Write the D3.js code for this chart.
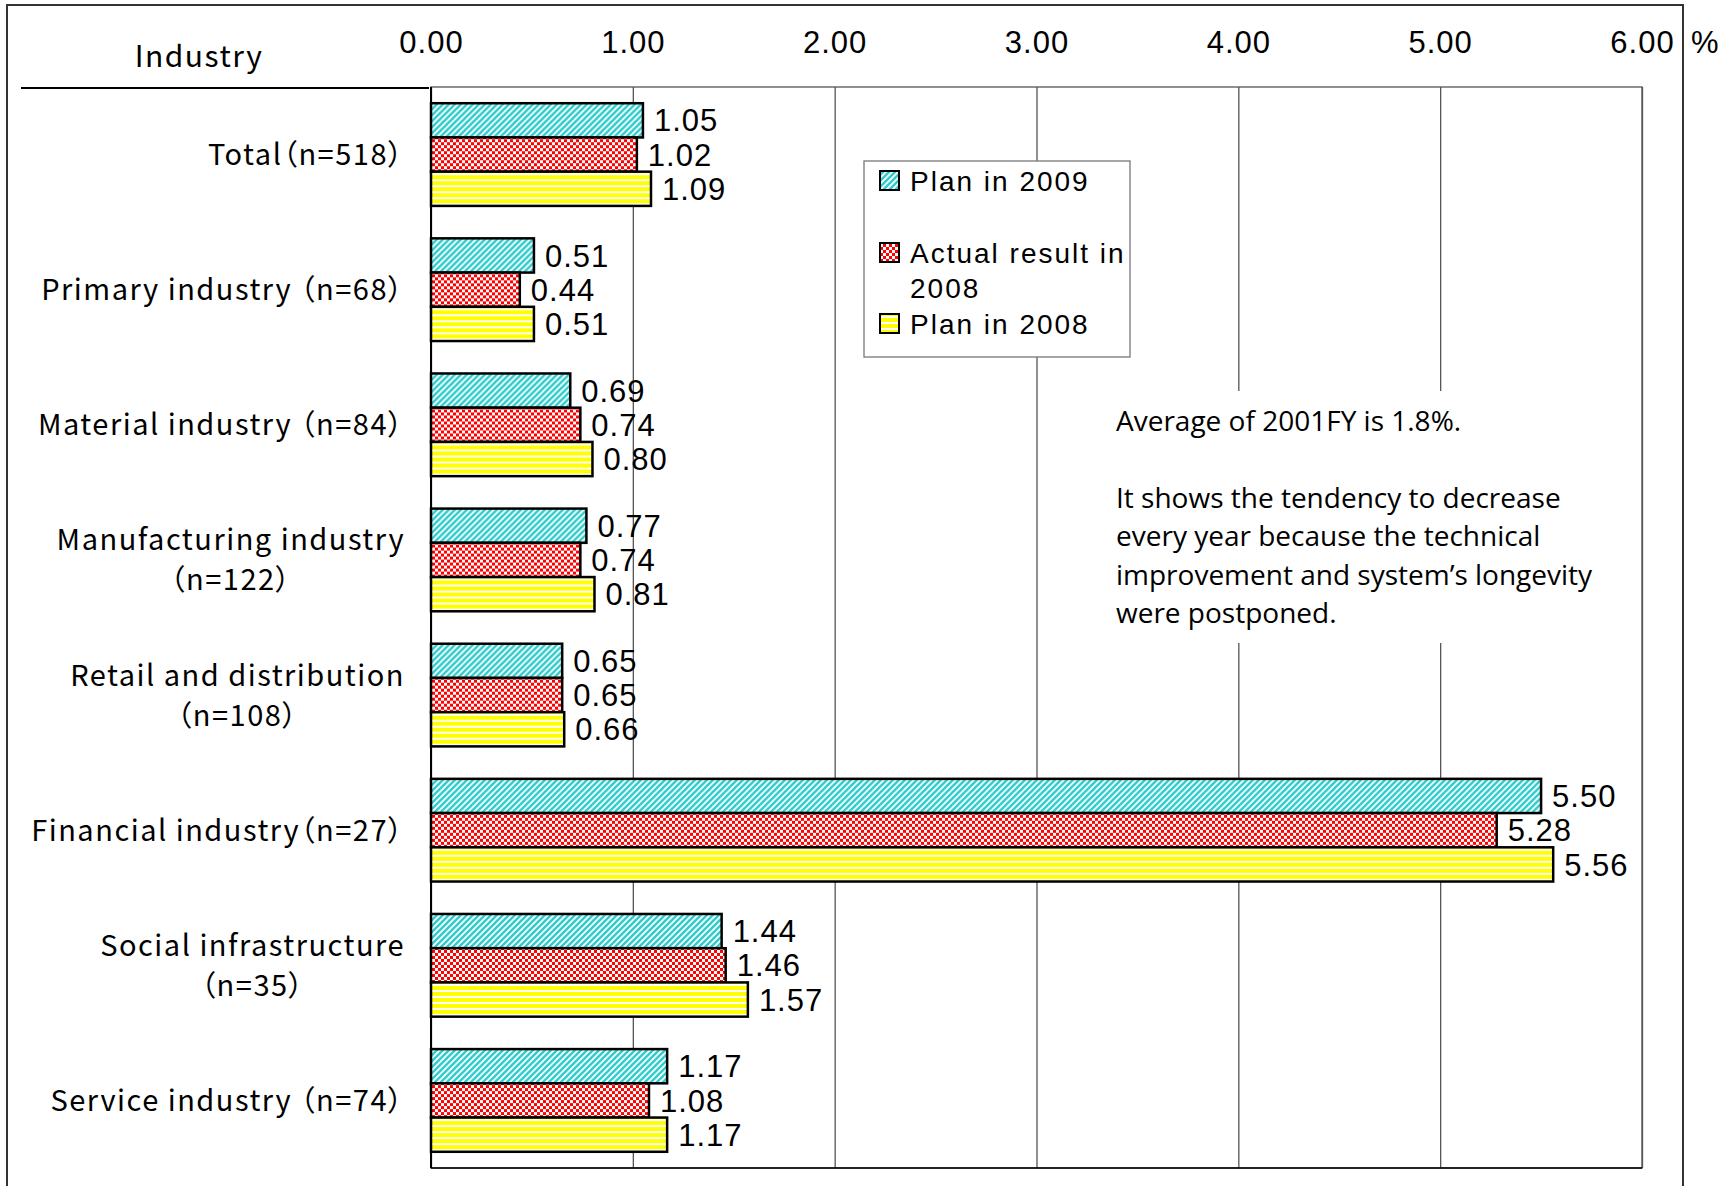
<!DOCTYPE html>
<html>
<head>
    <title>Maintenance cost ratio by industry</title>
    <script src="https://d3js.org/d3.v7.min.js"></script>
    <style>
        body { margin: 0; background: #fff; }
        .num { font-family: "Liberation Sans", Arial, sans-serif; font-size: 31px; letter-spacing: 1px; fill: #000; }
        .jp { font-family: "Noto Sans CJK JP", sans-serif; font-size: 29px; letter-spacing: 1.5px; fill: #000; font-feature-settings: "palt"; }
        .lg { font-family: "Liberation Sans", Arial, sans-serif; font-size: 28px; letter-spacing: 2px; fill: #000; }
        .note { font-family: "Open Sans", sans-serif; font-size: 28px; fill: #000; }
    </style>
</head>
<body>
<script>
    // categories (line breaks as in the original)
    const categories = [
        ["Total（n=518）"],
        ["Primary industry （n=68）"],
        ["Material industry （n=84）"],
        ["Manufacturing industry", "（n=122）"],
        ["Retail and distribution", "（n=108）"],
        ["Financial industry（n=27）"],
        ["Social infrastructure", "（n=35）"],
        ["Service industry （n=74）"]
    ];
    const plan2009 = [1.05, 0.51, 0.69, 0.77, 0.65, 5.50, 1.44, 1.17];
    const actual2008 = [1.02, 0.44, 0.74, 0.74, 0.65, 5.28, 1.46, 1.08];
    const plan2008 = [1.09, 0.51, 0.80, 0.81, 0.66, 5.56, 1.57, 1.17];
    const seriesKeys = ["plan2009", "actual2008", "plan2008"];
    const legendLabels = [["Plan in 2009"], ["Actual result in", "2008"], ["Plan in 2008"]];
    const xTicks = [0, 1, 2, 3, 4, 5, 6];
    const noteLines = [
        "Average of 2001FY is 1.8%.",
        "",
        "It shows the tendency to decrease",
        "every year because the technical",
        "improvement and system’s longevity",
        "were postponed."
    ];

    const width = 1732, height = 1186;
    const plot = { left: 431, right: 1642, top: 87, bottom: 1168 };

    const svg = d3.select("body").append("svg")
        .attr("width", width)
        .attr("height", height);

    svg.append("rect").attr("width", width).attr("height", height).attr("fill", "#fff");

    // fill patterns
    const defs = svg.append("defs");
    const pCyan = defs.append("pattern").attr("id", "pCyan")
        .attr("patternUnits", "userSpaceOnUse").attr("width", 6).attr("height", 6);
    pCyan.append("rect").attr("width", 6).attr("height", 6).attr("fill", "#fff");
    pCyan.append("path").attr("d", "M-1,7 L7,-1 M-4,4 L4,-4 M2,10 L10,2")
        .attr("stroke", "#33cccc").attr("stroke-width", 2.6);

    const pRed = defs.append("pattern").attr("id", "pRed")
        .attr("patternUnits", "userSpaceOnUse").attr("width", 6).attr("height", 6);
    pRed.append("rect").attr("width", 6).attr("height", 6).attr("fill", "#fff");
    pRed.append("rect").attr("width", 3).attr("height", 3).attr("fill", "#ff0000");
    pRed.append("rect").attr("x", 3).attr("y", 3).attr("width", 3).attr("height", 3).attr("fill", "#ff0000");

    const pYellow = defs.append("pattern").attr("id", "pYellow")
        .attr("patternUnits", "userSpaceOnUse").attr("width", 6).attr("height", 6);
    pYellow.append("rect").attr("width", 6).attr("height", 6).attr("fill", "#fff");
    pYellow.append("rect").attr("width", 6).attr("height", 4).attr("fill", "#ffff00");

    const fills = { plan2009: "url(#pCyan)", actual2008: "url(#pRed)", plan2008: "url(#pYellow)" };

    // outer frame
    svg.append("rect")
        .attr("x", 7).attr("y", 5).attr("width", 1676).attr("height", 1200)
        .attr("fill", "none").attr("stroke", "#333").attr("stroke-width", 2);

    const x = d3.scaleLinear().domain([0, 6]).range([plot.left, plot.right]);
    const y0 = d3.scaleBand().domain(d3.range(categories.length))
        .range([plot.top, plot.bottom]).paddingInner(0.24).paddingOuter(0.12);
    const y1 = d3.scaleBand().domain(seriesKeys).range([0, y0.bandwidth()]);

    // grid lines
    svg.append("g")
        .attr("transform", `translate(0,${plot.bottom})`)
        .call(d3.axisBottom(x).tickValues(xTicks).tickSize(-(plot.bottom - plot.top)).tickFormat(""))
        .call(g => g.select(".domain").remove())
        .call(g => g.selectAll("line").attr("stroke", "#555").attr("stroke-width", 1.3));

    // plot frame
    svg.append("rect")
        .attr("x", plot.left).attr("y", plot.top)
        .attr("width", plot.right - plot.left).attr("height", plot.bottom - plot.top)
        .attr("fill", "none").attr("stroke", "#555").attr("stroke-width", 1.3);
    svg.append("line").attr("x1", plot.left).attr("x2", plot.left)
        .attr("y1", plot.top).attr("y2", plot.bottom).attr("stroke", "#000").attr("stroke-width", 2);
    svg.append("line").attr("x1", plot.left).attr("x2", plot.right)
        .attr("y1", plot.bottom).attr("y2", plot.bottom).attr("stroke", "#000").attr("stroke-width", 1.5);

    // tick labels on top
    svg.append("g")
        .attr("transform", `translate(0,53)`)
        .call(d3.axisTop(x).tickValues(xTicks).tickSize(0).tickFormat(d3.format(".2f")))
        .call(g => g.select(".domain").remove())
        .call(g => g.selectAll("text").attr("class", "num").attr("dy", 0).attr("y", 0)
            .attr("font-family", null).attr("font-size", null));

    svg.append("text").attr("class", "num").attr("x", 1691).attr("y", 53).text("%");

    // header
    svg.append("text").attr("class", "jp").attr("x", 199).attr("y", 67)
        .attr("text-anchor", "middle").style("font-size", "30px").text("Industry");
    svg.append("line").attr("x1", 21).attr("x2", 429).attr("y1", 88).attr("y2", 88)
        .attr("stroke", "#000").attr("stroke-width", 2);

    // annotation box (hides the grid lines behind it)
    svg.append("rect").attr("x", 1100).attr("y", 391).attr("width", 530).attr("height", 252).attr("fill", "#fff");
    svg.append("g").selectAll("text")
        .data(noteLines)
        .join("text")
        .attr("class", "note")
        .attr("x", 1116)
        .attr("y", (d, i) => 421 + (i === 0 ? 0 : 77 + (i - 2) * 38.5))
        .attr("dy", "0.35em")
        .text(d => d);

    // bars
    const rows = categories.map((c, i) => ({
        i,
        values: [
            { key: "plan2009", v: plan2009[i] },
            { key: "actual2008", v: actual2008[i] },
            { key: "plan2008", v: plan2008[i] }
        ]
    }));

    const groups = svg.append("g").selectAll("g")
        .data(rows)
        .join("g")
        .attr("transform", d => `translate(0,${y0(d.i)})`);

    groups.selectAll("rect")
        .data(d => d.values)
        .join("rect")
        .attr("x", x(0))
        .attr("y", d => y1(d.key))
        .attr("width", d => x(d.v) - x(0))
        .attr("height", y1.bandwidth())
        .attr("fill", d => fills[d.key])
        .attr("stroke", "#000")
        .attr("stroke-width", 2.5);

    groups.selectAll("text")
        .data(d => d.values)
        .join("text")
        .attr("class", "num")
        .attr("x", d => x(d.v) + 11)
        .attr("y", d => y1(d.key) + y1.bandwidth() / 2)
        .attr("dy", "0.36em")
        .text(d => d3.format(".2f")(d.v));

    // category labels
    const labelRight = 404;
    categories.forEach((lines, i) => {
        const cy = y0(i) + y0.bandwidth() / 2;
        const g = svg.append("g");
        const texts = g.selectAll("text")
            .data(lines)
            .join("text")
            .attr("class", "jp")
            .attr("y", (d, k) => cy + (k - (lines.length - 1) / 2) * 40)
            .attr("dy", "0.36em")
            .text(d => d);
        if (lines.length === 1) {
            texts.attr("x", labelRight).attr("text-anchor", "end");
        } else {
            const w = d3.max(texts.nodes(), n => n.getComputedTextLength());
            texts.attr("x", labelRight + 1 - w / 2).attr("text-anchor", "middle");
        }
    });

    // legend
    const legend = svg.append("g").attr("transform", "translate(864,161)");
    legend.append("rect").attr("width", 266).attr("height", 196)
        .attr("fill", "#fff").attr("stroke", "#777").attr("stroke-width", 1.3);
    const legendY = [20, 92, 163];
    seriesKeys.forEach((key, i) => {
        const item = legend.append("g").attr("transform", `translate(16,${legendY[i]})`);
        item.append("rect").attr("x", 0).attr("y", -10).attr("width", 19).attr("height", 19)
            .attr("fill", fills[key]).attr("stroke", "#000").attr("stroke-width", 2);
        item.selectAll("text")
            .data(legendLabels[i])
            .join("text")
            .attr("class", "lg")
            .attr("x", 30)
            .attr("y", (d, k) => k * 35)
            .attr("dy", "0.36em")
            .text(d => d);
    });
</script>
</body>
</html>
